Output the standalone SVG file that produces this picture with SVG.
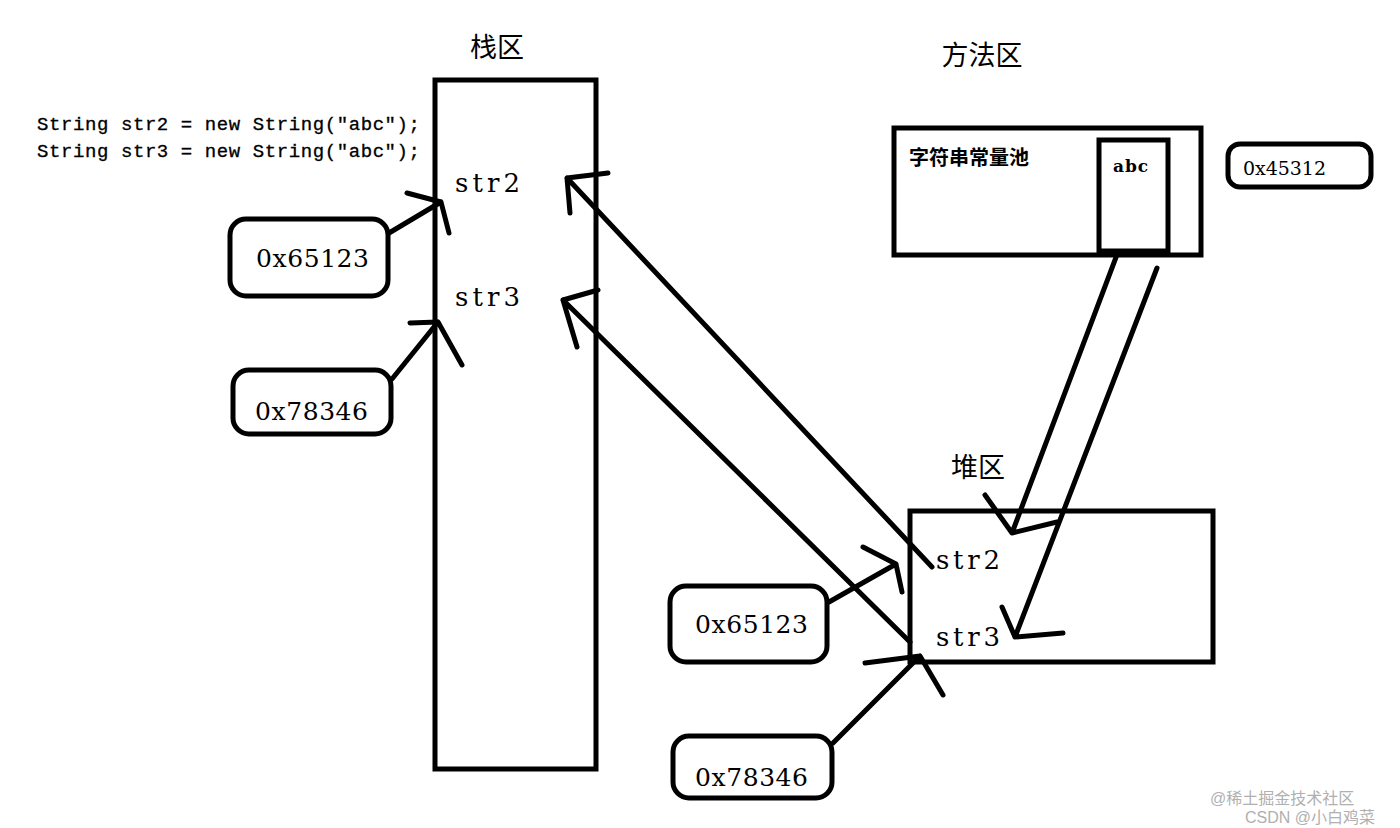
<svg xmlns="http://www.w3.org/2000/svg" width="1400" height="828" viewBox="0 0 1400 828">
<style>
.box{fill:none;stroke:#000;stroke-width:5}
.rbox{fill:#fff;stroke:#000;stroke-width:5}
.ln{fill:none;stroke:#000;stroke-width:5;stroke-linecap:round;stroke-linejoin:round}
.cn{font-family:"Noto Sans CJK SC","Noto Sans CJK JP",sans-serif;fill:#000}
.lab{font-family:"DejaVu Serif","Liberation Serif",serif;fill:#000}
.code{font-family:"Liberation Mono","DejaVu Sans Mono",monospace;fill:#000;stroke:#000;stroke-width:0.3}
.wm{font-family:"Liberation Sans","Noto Sans CJK SC",sans-serif;font-size:16px;fill:#b0b0b0}
</style>
<rect width="1400" height="828" fill="#fff"/>
<g id="code">
<text class="code" x="37" y="130" font-size="19" textLength="383">String str2 = new String("abc");</text>
<text class="code" x="37" y="157" font-size="19" textLength="383">String str3 = new String("abc");</text>
</g>
<g id="stack">
<text class="cn" x="497" y="57" font-size="27" text-anchor="middle">栈区</text>
<rect class="box" x="435" y="80" width="161" height="689"/>
<text class="lab" x="455" y="192" font-size="26" textLength="65">str2</text>
<text class="lab" x="455" y="306" font-size="26" textLength="65">str3</text>
</g>
<g id="addr1-left">
<rect class="rbox" x="230" y="219" width="158" height="77" rx="16"/>
<text class="lab" x="256" y="267" font-size="25" textLength="113">0x65123</text>
</g>
<g id="addr2-left">
<rect class="rbox" x="233" y="370" width="158" height="64" rx="16"/>
<text class="lab" x="255" y="420" font-size="25" textLength="113">0x78346</text>
</g>
<g id="method">
<text class="cn" x="982" y="65" font-size="27" text-anchor="middle">方法区</text>
<rect class="box" x="894" y="128" width="307" height="127"/>
<text class="cn" x="909" y="165" font-size="20" font-weight="bold">字符串常量池</text>
<rect class="box" x="1099" y="140" width="69" height="111"/>
<text class="lab" x="1113" y="172" font-size="17" font-weight="bold" textLength="35">abc</text>
</g>
<g id="addr-pool">
<rect class="rbox" x="1228" y="144" width="143" height="43" rx="12"/>
<text class="lab" x="1243" y="175" font-size="19" textLength="83">0x45312</text>
</g>
<g id="heap">
<text class="cn" x="978" y="477" font-size="27" text-anchor="middle">堆区</text>
<rect class="box" x="910" y="511" width="303" height="151"/>
<text class="lab" x="936" y="569" font-size="26" textLength="64">str2</text>
<text class="lab" x="936" y="646" font-size="26" textLength="64">str3</text>
</g>
<g id="addr1-heap">
<rect class="rbox" x="670" y="586" width="157" height="76" rx="16"/>
<text class="lab" x="695" y="633" font-size="25" textLength="113">0x65123</text>
</g>
<g id="addr2-heap">
<rect class="rbox" x="673" y="736" width="159" height="62" rx="16"/>
<text class="lab" x="695" y="786" font-size="25" textLength="113">0x78346</text>
</g>
<g id="connectors">
<path class="ln" d="M389,233 L441,202 M407,193 L441,202 L449,233"/>
<path class="ln" d="M392,379 L438,322 M410,323 L438,322 L462,365"/>
<path class="ln" d="M932,567 L567,178 M608,173 L567,178 L570,213"/>
<path class="ln" d="M910,642 L563,300 M598,290 L563,300 L577,347"/>
<path class="ln" d="M1118,252 L1012,533 M985,495 L1012,533 L1057,522"/>
<path class="ln" d="M1157,268 L1015,637 M1002,607 L1015,637 L1063,633"/>
<path class="ln" d="M829,602 L896,564 M863,547 L896,564 L902,592"/>
<path class="ln" d="M833,743 L920,656 M865,663 L920,656 L943,695"/>
</g>
<g id="watermark">
<text class="wm" x="1210" y="804">@稀土掘金技术社区</text>
<text class="wm" x="1245" y="823">CSDN @小白鸡菜</text>
</g>
</svg>
